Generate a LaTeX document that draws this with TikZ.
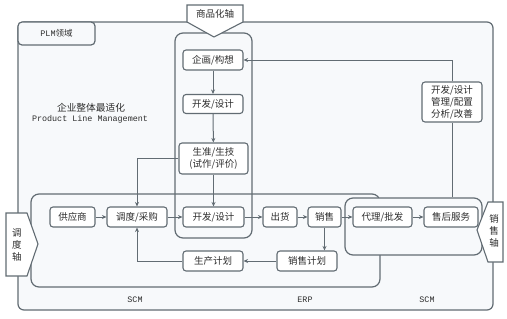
\documentclass[tikz,border=0pt]{standalone}
\usepackage{fontspec}
\setmainfont{Noto Sans CJK SC}
\newfontfamily\monofnt{Liberation Mono}
\usetikzlibrary{arrows.meta}
\definecolor{lc}{RGB}{98,108,115}
\definecolor{tc}{RGB}{45,45,45}
\definecolor{bgc}{RGB}{247,249,251}
\begin{document}
\begin{tikzpicture}[x=1pt,y=-1pt,
  frame/.style={draw=lc, line width=1.2pt, rounded corners=7pt},
  box/.style={draw=lc, line width=1.1pt, rounded corners=3pt, fill=white, inner sep=0pt,
    text=tc, font=\fontsize{9.5}{11}\selectfont, minimum height=20pt},
  axis/.style={draw=lc, line width=1.1pt, fill=white},
  axtext/.style={text=tc, font=\fontsize{9.5}{11.5}\selectfont, align=center, inner sep=0pt},
  lbl/.style={text=tc, font=\monofnt\fontsize{8.4}{10}\selectfont, inner sep=0pt},
  arr/.style={draw=lc, line width=1pt, -{Stealth[length=4.5pt,width=4pt]}},
  ln/.style={draw=lc, line width=1pt}]
\useasboundingbox (0,0) rectangle (507,319);
\fill[white] (0,0) rectangle (507,319);
% outer PLM frame
\node[frame, fill=bgc, rounded corners=6pt, minimum width=475, minimum height=288] (plm) at (255.5,166) {};
\node[frame, fill=bgc, rounded corners=4pt, minimum width=77, minimum height=23, inner sep=0pt,
  text=tc, font=\fontsize{8.5}{10}\selectfont] (tab) at (56.5,33.5) {{\monofnt PLM}领域};
% ERP frame and product column
\node[frame, rounded corners=8pt, minimum width=349, minimum height=93] (erp) at (205.5,240.5) {};
\node[frame, rounded corners=8pt, minimum width=77, minimum height=205] (col) at (213.5,135.5) {};
\node[frame, fill=bgc, rounded corners=8pt, minimum width=137, minimum height=57] (sales) at (413.5,226.5) {};
% axes
\draw[axis] (187,5) -- (243,5) -- (243,22) -- (214,37) -- (187,22) -- cycle;
\node[axtext] (ax1) at (215,14) {商品化轴};
\draw[axis] (6,213) -- (27,213) -- (38,244) -- (27,276) -- (6,276) -- cycle;
\node[axtext, font=\fontsize{9.5}{11.8}\selectfont] (ax2) at (17,245) {调\\度\\轴};
\draw[axis] (503,202) -- (488,202) -- (477,230) -- (488,262) -- (503,262) -- cycle;
\node[axtext, font=\fontsize{9.5}{11.8}\selectfont] (ax3) at (494,231) {销\\售\\轴};
% texts
\node[text=tc, font=\fontsize{9.7}{11}\selectfont, inner sep=0pt] (t1) at (91,108) {企业整体最适化};
\node[lbl] (t2) at (90,119) {Product Line Management};
\node[lbl] (scm1) at (135,300) {SCM};
\node[lbl] (erpl) at (305,300) {ERP};
\node[lbl] (scm2) at (427,300) {SCM};
% nodes
\node[box, minimum width=60] (n1) at (213,60) {企画/构想};
\node[box, minimum width=60, minimum height=19] (n2) at (213,104) {开发/设计};
\node[box, minimum width=69, minimum height=31, align=center,
  font=\fontsize{9.5}{12}\selectfont] (n3) at (213.5,158.5) {生准/生技\\(试作/评价)};
\node[box, minimum width=61] (n4) at (213.5,217) {开发/设计};
\node[box, minimum width=45] (s1) at (72.5,217) {供应商};
\node[box, minimum width=60] (s2) at (137,217) {调度/采购};
\node[box, minimum width=34] (e1) at (280,217) {出货};
\node[box, minimum width=33] (e2) at (324.5,217) {销售};
\node[box, minimum width=59] (c1) at (382.5,217) {代理/批发};
\node[box, minimum width=54] (c2) at (451,217) {售后服务};
\node[box, minimum width=60] (p1) at (213,261) {生产计划};
\node[box, minimum width=60] (p2) at (307,261) {销售计划};
\node[box, minimum width=60, minimum height=40, align=center,
  font=\fontsize{9.5}{12}\selectfont] (m) at (452,102) {开发/设计\\管理/配置\\分析/改善};
% connectors
\draw[arr] (n1) -- (n2);
\draw[arr] (n2) -- (n3);
\draw[arr] (n3) -- (n4);
\draw[arr] (s1) -- (s2);
\draw[arr] (s2) -- (n4);
\draw[arr] (n4) -- (e1);
\draw[arr] (e1) -- (e2);
\draw[arr] (e2) -- (c1);
\draw[arr] (c1) -- (c2);
\draw[arr] (n3.west) -- (s2.north |- n3.west) -- (s2.north);
\draw[arr] (p1.west) -- (s2.south |- p1.west) -- (s2.south);
\draw[arr] (p2) -- (p1);
\draw[arr] (e2.south) -- (e2.south |- p2.north);
\draw[ln] (m.south |- sales.north) -- (m.south);
\draw[arr] (m.north) -- (m.north |- n1.east) -- (n1.east);
\end{tikzpicture}
\end{document}
